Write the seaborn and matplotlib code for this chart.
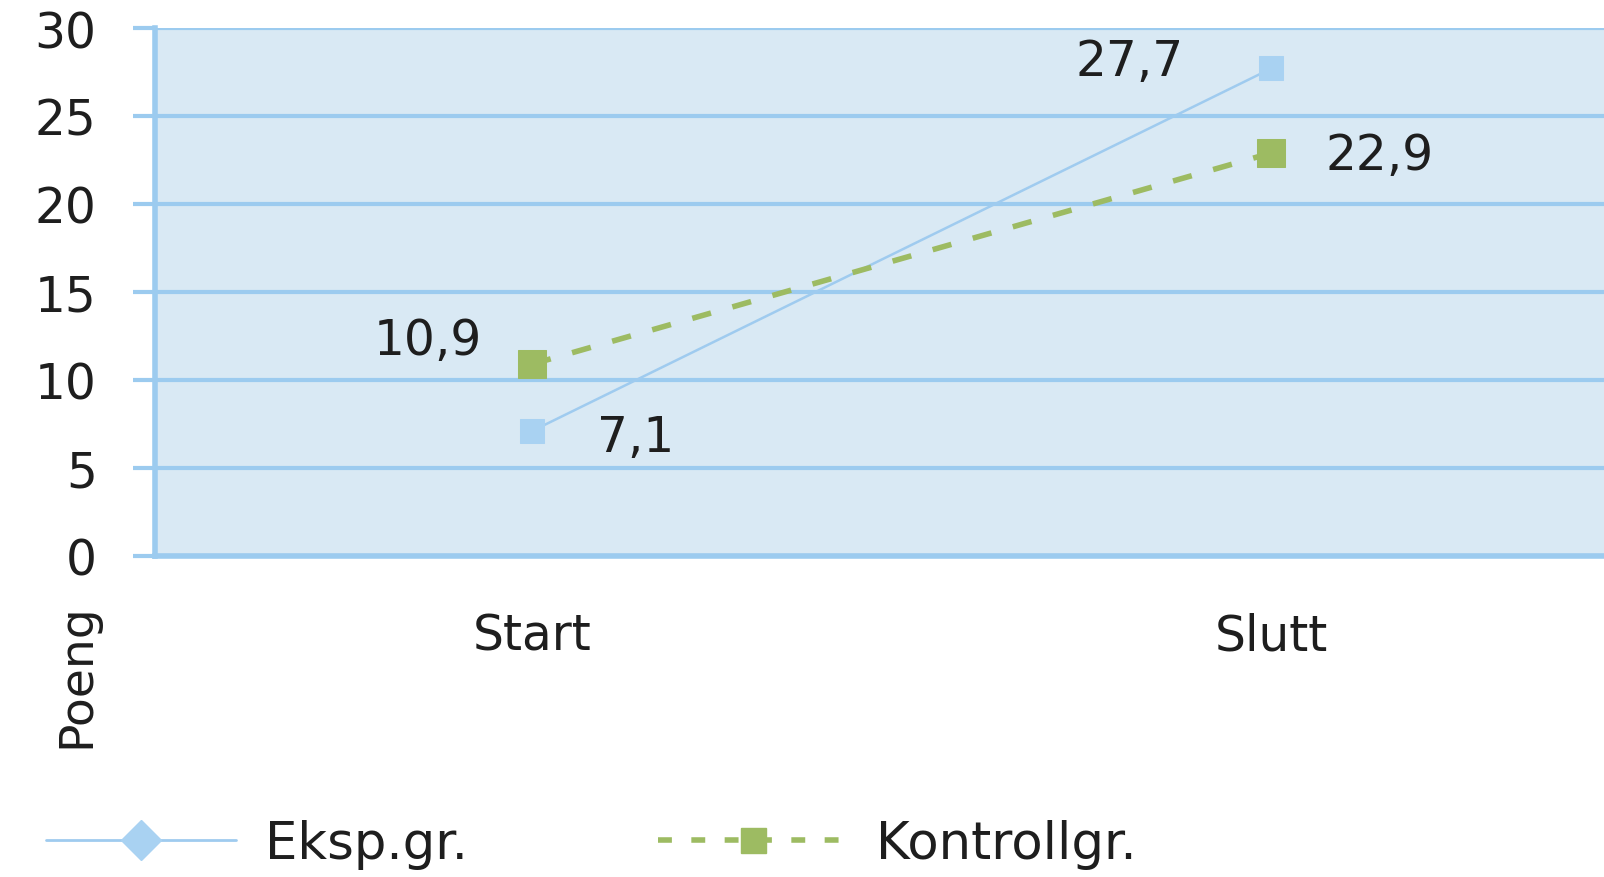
import matplotlib
matplotlib.use("Agg")
import matplotlib.pyplot as plt
from matplotlib.lines import Line2D
import seaborn as sns
import pandas as pd

categories = ["Start", "Slutt"]
eksp_values = [7.1, 27.7]
kontroll_values = [10.9, 22.9]
eksp_labels = ["7,1", "27,7"]
kontroll_labels = ["10,9", "22,9"]
series_names = ["Eksp.gr.", "Kontrollgr."]
y_ticks = [0, 5, 10, 15, 20, 25, 30]

sns.set_theme(style="white")
plt.rcParams["font.family"] = ["DejaVu Sans"]

BLUE = "#a9d2f2"
BLUE_LINE = "#9fcbef"
GRID = "#9ccbef"
GREEN = "#9dbb62"
BG = "#d9e9f4"
TXT = "#1e1e1e"

df = pd.DataFrame({
    "Tid": categories * 2,
    "Poeng": eksp_values + kontroll_values,
    "Gruppe": [series_names[0]] * 2 + [series_names[1]] * 2,
})
df["x"] = [0, 1, 0, 1]

fig = plt.figure(figsize=(16.04, 8.78), dpi=100)
ax = fig.add_axes([155 / 1604, 1 - 557 / 878, 1 - 155 / 1604, (557 - 29) / 878])
ax.set_facecolor(BG)

sns.lineplot(data=df[df["Gruppe"] == series_names[0]], x="x", y="Poeng", ax=ax,
             color=BLUE_LINE, linewidth=1.8, marker="s", markersize=17,
             markerfacecolor=BLUE, markeredgecolor=BLUE, zorder=4, legend=False)
sns.lineplot(data=df[df["Gruppe"] == series_names[1]], x="x", y="Poeng", ax=ax,
             color=GREEN, linewidth=4, marker="s", markersize=20,
             markerfacecolor=GREEN, markeredgecolor=GREEN, zorder=5, legend=False)
ax.lines[1].set_linestyle((0, (3.5, 4)))

ax.set_xlim(-0.51, 1.45)
ax.set_ylim(0, 30)
ax.set_yticks(y_ticks)
ax.set_yticklabels([str(t) for t in y_ticks])
ax.set_xticks([0, 1])
ax.set_xticklabels(categories)
ax.tick_params(axis="y", left=True, direction="out", length=16, width=3, color=GRID,
               labelsize=35, labelcolor=TXT, pad=26)
ax.tick_params(axis="x", bottom=False, length=0, labelsize=35, labelcolor=TXT, pad=40)

ax.yaxis.grid(True, color=GRID, linewidth=3)
ax.xaxis.grid(False)
ax.set_axisbelow(True)
for side in ["top", "right"]:
    ax.spines[side].set_visible(False)
ax.spines["left"].set_color(GRID)
ax.spines["left"].set_linewidth(4)
ax.spines["bottom"].set_color(GRID)
ax.spines["bottom"].set_linewidth(4)
ax.set_xlabel("")
ax.set_ylabel("")

# value labels
offsets_e = [(104, -6), (-142, 7)]
offsets_k = [(-104, 24), (108, -2)]
for i in range(2):
    ax.annotate(eksp_labels[i], (i, eksp_values[i]), xytext=offsets_e[i],
                textcoords="offset pixels", ha="center", va="center",
                fontsize=35, color=TXT)
    ax.annotate(kontroll_labels[i], (i, kontroll_values[i]), xytext=offsets_k[i],
                textcoords="offset pixels", ha="center", va="center",
                fontsize=35, color=TXT)

fig.text(77 / 1604, 1 - 676 / 878, "Poeng", rotation=90, ha="center", va="center",
         fontsize=34, color=TXT)

handles = [
    Line2D([], [], color=BLUE_LINE, linewidth=2, marker="D", markersize=20,
           markerfacecolor=BLUE, markeredgecolor=BLUE),
    Line2D([], [], color=GREEN, linewidth=4, linestyle=(0, (2.5, 3.5)), marker="s",
           markersize=18, markerfacecolor=GREEN, markeredgecolor=GREEN),
]
fig.legend(handles, series_names, loc="center left",
           bbox_to_anchor=(0 / 1604, 1 - 845 / 878), ncol=2, frameon=False,
           fontsize=37, handlelength=3.7, handletextpad=0.55, columnspacing=3.7,
           labelcolor=TXT)

fig.savefig("out.png", dpi=100)
